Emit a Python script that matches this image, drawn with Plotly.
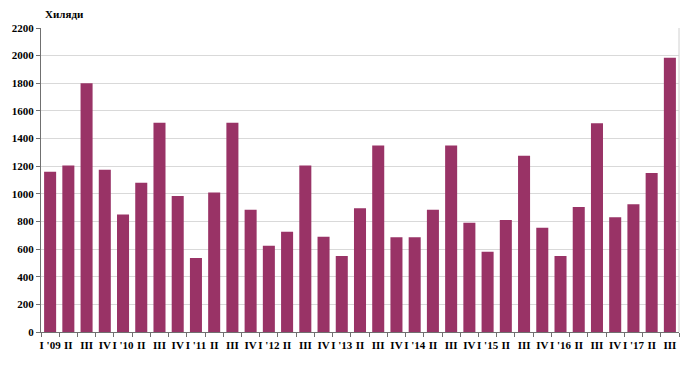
import plotly.graph_objects as go

categories = ["I '09", "II", "III", "IV", "I '10", "II", "III", "IV", "I '11", "II", "III", "IV",
              "I '12", "II", "III", "IV", "I '13", "II", "III", "IV", "I '14", "II", "III", "IV",
              "I '15", "II", "III", "IV", "I '16", "II", "III", "IV", "I '17", "II", "III"]
values = [1160, 1205, 1800, 1175, 850, 1080, 1515, 985, 535, 1010, 1515, 885,
          625, 725, 1205, 690, 550, 895, 1350, 685, 685, 885, 1350, 790,
          580, 810, 1275, 755, 550, 905, 1510, 830, 925, 1150, 1985]
y_ticks = list(range(0, 2201, 200))

x_idx = list(range(len(categories)))
boundaries = [i - 0.5 for i in range(len(categories) + 1)]

fig = go.Figure(go.Bar(x=x_idx, y=values, marker=dict(color="#993366", line=dict(width=0)), width=0.66))

tf = dict(size=11, family="Liberation Serif, Times New Roman, serif", color="#000", weight="bold")
fig.update_layout(
    width=693, height=375,
    margin=dict(l=35, r=14, t=28, b=43),
    plot_bgcolor="white", paper_bgcolor="white",
    showlegend=False,
    font=dict(family="Liberation Serif, Times New Roman, serif", size=11, color="#000"),
    xaxis=dict(
        tickmode="array", tickvals=x_idx, ticktext=categories,
        range=[-0.5, len(categories) - 0.5],
        showgrid=False, showline=True, linecolor="#707070", linewidth=1,
        ticks="", tickangle=0, tickfont=tf, ticklabelstandoff=3,
        minor=dict(tickmode="array", tickvals=boundaries, ticks="outside", ticklen=4,
                   tickcolor="#707070", showgrid=False),
    ),
    yaxis=dict(
        range=[0, 2200], tickvals=y_ticks,
        showgrid=True, gridcolor="#d9d9d9", gridwidth=1,
        showline=True, linecolor="#707070", linewidth=1,
        ticks="outside", ticklen=4, tickcolor="#707070",
        tickfont=tf, zeroline=False,
    ),
    shapes=[dict(type="line", xref="paper", yref="paper", x0=1, x1=1, y0=0, y1=1,
                 line=dict(color="#d0d0d0", width=1))],
    annotations=[dict(text="<b>Хиляди</b>", xref="paper", yref="paper", x=0.003, y=1.0,
                      xanchor="left", yanchor="bottom", yshift=6, showarrow=False,
                      font=dict(size=11, family="Liberation Serif, Times New Roman, serif", color="#000"))],
)
fig.write_html("out.html")
